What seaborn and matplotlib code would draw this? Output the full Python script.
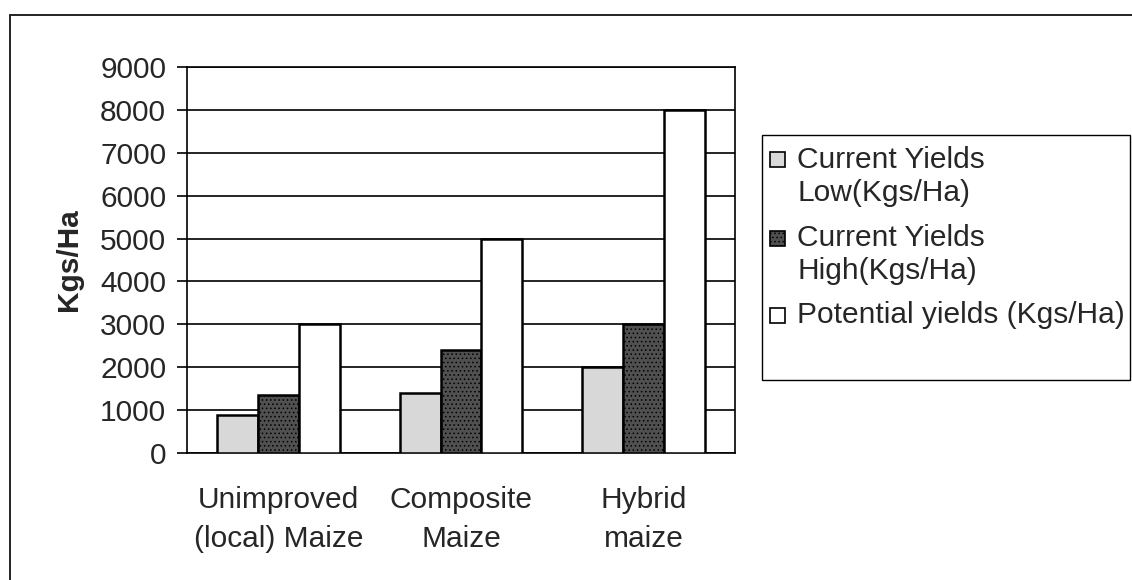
import matplotlib
matplotlib.use("Agg")
import matplotlib.pyplot as plt
from matplotlib.lines import Line2D
from matplotlib.patches import Rectangle
import numpy as np
import pandas as pd
import seaborn as sns

# Maize yield data (Kgs/Ha)
categories = ["Unimproved\n(local) Maize", "Composite\nMaize", "Hybrid\nmaize"]
series_names = ["Current Yields\nLow(Kgs/Ha)", "Current Yields\nHigh(Kgs/Ha)",
                "Potential yields (Kgs/Ha)"]
yield_low = [880, 1400, 2000]
yield_high = [1350, 2400, 3000]
yield_potential = [3000, 5000, 8000]
y_ticks = [0, 1000, 2000, 3000, 4000, 5000, 6000, 7000, 8000, 9000]

df = pd.DataFrame({
    "variety": categories * 3,
    "series": [series_names[0]] * 3 + [series_names[1]] * 3 + [series_names[2]] * 3,
    "value": yield_low + yield_high + yield_potential,
})

sns.set_theme(style="white")
plt.rcParams["font.family"] = ["Liberation Sans", "DejaVu Sans"]
plt.rcParams["hatch.linewidth"] = 0.6

FS = 21.5
W, H = 1132, 580
fills = ["#d8d8d8", "#505050", "#ffffff"]
hatches = ["", "....", ""]

fig = plt.figure(figsize=(W / 100, H / 100), dpi=100)
ax = fig.add_axes([187 / W, 1 - 453 / H, 548 / W, 386 / H])

sns.barplot(data=df, x="variety", y="value", hue="series", order=categories,
            hue_order=series_names, palette=fills, width=0.67, gap=0,
            edgecolor="black", linewidth=1.8, saturation=1, legend=False,
            ax=ax, zorder=3)

# apply stipple to the dark series
for container, h in zip(ax.containers, hatches):
    for bar in container:
        bar.set_hatch(h)

ax.set_ylim(0, 9000)
ax.set_xlim(-0.5, 2.5)
ax.set_yticks(y_ticks)
ax.set_yticklabels([str(v) for v in y_ticks], fontsize=FS)
ax.yaxis.grid(True, color="black", linewidth=1.2, zorder=0)
ax.set_axisbelow(True)

# category ticks sit between the groups
ax.set_xticks([0, 1, 2])
ax.set_xticklabels(categories, fontsize=FS, linespacing=1.5)
ax.set_xticks([-0.5, 0.5, 1.5, 2.5], minor=True)
ax.tick_params(axis="x", which="major", length=0, pad=24)
ax.tick_params(axis="x", which="minor", length=7, width=1.2, color="black", direction="out")
ax.tick_params(axis="y", length=7, width=1.2, color="black", direction="out", pad=8, left=True)

ax.set_xlabel("")
ax.set_ylabel("Kgs/Ha", fontsize=FS, fontweight="bold", labelpad=12)

for side in ["left", "right", "top", "bottom"]:
    ax.spines[side].set_visible(True)
    ax.spines[side].set_color("black")
    ax.spines[side].set_linewidth(1.2)

# legend box with swatches aligned to the first line of each label
fig.add_artist(Rectangle((762 / W, 1 - 380 / H), (1130 - 762) / W, 245 / H,
                         transform=fig.transFigure, facecolor="white",
                         edgecolor="black", linewidth=1.0))
entry_tops = [160, 238, 315]  # first-line centres, px from top
for name, fill, hatch, yc in zip(series_names, fills, hatches, entry_tops):
    fig.add_artist(Rectangle((770 / W, 1 - (yc + 7.5) / H), 15 / W, 15 / H,
                             transform=fig.transFigure, facecolor=fill, hatch=hatch,
                             edgecolor="black", linewidth=1.2))
    fig.text(797 / W, 1 - (yc - 14) / H, name, fontsize=FS, va="top", ha="left",
             linespacing=1.22)

# outer chart frame
fig.add_artist(Line2D([10 / W, 1.0], [1 - 15 / H, 1 - 15 / H],
                      transform=fig.transFigure, color="#222222", linewidth=1.4))
fig.add_artist(Line2D([10 / W, 10 / W], [0, 1 - 15 / H],
                      transform=fig.transFigure, color="#222222", linewidth=1.4))

fig.savefig("out.png", dpi=100)
